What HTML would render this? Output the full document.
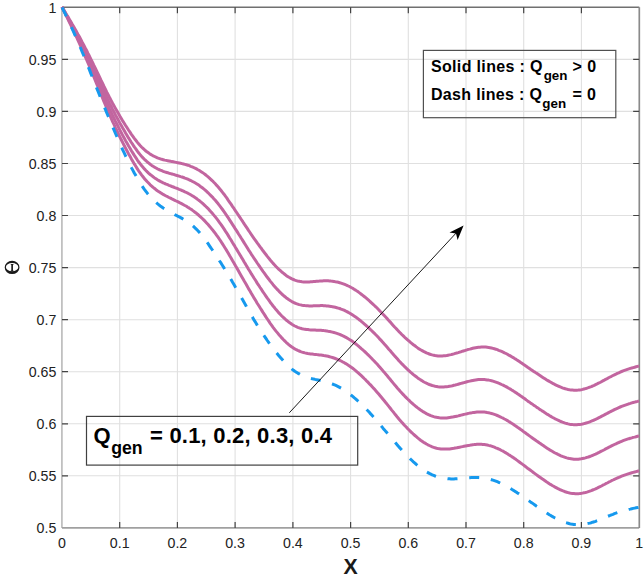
<!DOCTYPE html>
<html><head><meta charset="utf-8"><style>
html,body{margin:0;padding:0;background:#fff;}
svg{display:block;}
text{font-family:"Liberation Sans",sans-serif;}
</style></head><body>
<svg width="644" height="577" viewBox="0 0 644 577">
<rect width="644" height="577" fill="#fff"/>
<path d="M119.7,7.3 L119.7,527.9 M177.4,7.3 L177.4,527.9 M235.1,7.3 L235.1,527.9 M292.9,7.3 L292.9,527.9 M350.6,7.3 L350.6,527.9 M408.3,7.3 L408.3,527.9 M466.0,7.3 L466.0,527.9 M523.7,7.3 L523.7,527.9 M581.4,7.3 L581.4,527.9 M62.0,475.8 L639.15,475.8 M62.0,423.8 L639.15,423.8 M62.0,371.7 L639.15,371.7 M62.0,319.7 L639.15,319.7 M62.0,267.6 L639.15,267.6 M62.0,215.5 L639.15,215.5 M62.0,163.5 L639.15,163.5 M62.0,111.4 L639.15,111.4 M62.0,59.4 L639.15,59.4" stroke="#e0e0e0" stroke-width="1.1" fill="none"/>
<path d="M61.9,527.9 L61.9,7.3" stroke="#c0c0c0" stroke-width="1.8" fill="none"/>
<path d="M62.0,527.9 L639.15,527.9" stroke="#a0a0a0" stroke-width="1.7" fill="none"/>
<path d="M62.0,7.3 L639.3,7.3" stroke="#707070" stroke-width="1.4" fill="none"/>
<path d="M639.3,7.3 L639.3,527.9" stroke="#8a8a8a" stroke-width="1.7" fill="none"/>
<path d="M119.7,527.9 L119.7,521.9 M119.7,7.3 L119.7,13.3 M177.4,527.9 L177.4,521.9 M177.4,7.3 L177.4,13.3 M235.1,527.9 L235.1,521.9 M235.1,7.3 L235.1,13.3 M292.9,527.9 L292.9,521.9 M292.9,7.3 L292.9,13.3 M350.6,527.9 L350.6,521.9 M350.6,7.3 L350.6,13.3 M408.3,527.9 L408.3,521.9 M408.3,7.3 L408.3,13.3 M466.0,527.9 L466.0,521.9 M466.0,7.3 L466.0,13.3 M523.7,527.9 L523.7,521.9 M523.7,7.3 L523.7,13.3 M581.4,527.9 L581.4,521.9 M581.4,7.3 L581.4,13.3 M62.0,475.8 L68.0,475.8 M639.15,475.8 L633.15,475.8 M62.0,423.8 L68.0,423.8 M639.15,423.8 L633.15,423.8 M62.0,371.7 L68.0,371.7 M639.15,371.7 L633.15,371.7 M62.0,319.7 L68.0,319.7 M639.15,319.7 L633.15,319.7 M62.0,267.6 L68.0,267.6 M639.15,267.6 L633.15,267.6 M62.0,215.5 L68.0,215.5 M639.15,215.5 L633.15,215.5 M62.0,163.5 L68.0,163.5 M639.15,163.5 L633.15,163.5 M62.0,111.4 L68.0,111.4 M639.15,111.4 L633.15,111.4 M62.0,59.4 L68.0,59.4 M639.15,59.4 L633.15,59.4" stroke="#444" stroke-width="1.2" fill="none"/>
<path d="M62.0,7.0 L63.4,9.9 L64.9,12.9 L66.3,15.9 L67.8,18.8 L69.2,21.8 L70.7,24.8 L72.1,27.8 L73.6,30.9 L75.0,33.9 L76.5,37.0 L77.9,40.1 L79.4,43.3 L80.8,46.5 L82.2,49.7 L83.7,53.0 L85.1,56.3 L86.6,59.6 L88.0,63.0 L89.5,66.4 L90.9,69.9 L92.4,73.3 L93.8,76.8 L95.3,80.4 L96.7,83.9 L98.2,87.4 L99.6,91.0 L101.0,94.5 L102.5,98.0 L103.9,101.5 L105.4,105.0 L106.8,108.4 L108.3,111.8 L109.7,115.1 L111.2,118.4 L112.6,121.6 L114.1,124.7 L115.5,127.8 L117.0,130.9 L118.4,133.9 L119.8,136.9 L121.3,139.8 L122.7,142.6 L124.2,145.5 L125.6,148.2 L127.1,151.0 L128.5,153.7 L130.0,156.3 L131.4,158.9 L132.9,161.5 L134.3,163.9 L135.8,166.3 L137.2,168.6 L138.6,170.8 L140.1,172.9 L141.5,174.9 L143.0,176.8 L144.4,178.6 L145.9,180.2 L147.3,181.8 L148.8,183.3 L150.2,184.8 L151.7,186.1 L153.1,187.4 L154.6,188.5 L156.0,189.7 L157.4,190.7 L158.9,191.7 L160.3,192.6 L161.8,193.5 L163.2,194.4 L164.7,195.2 L166.1,196.0 L167.6,196.7 L169.0,197.5 L170.5,198.2 L171.9,198.9 L173.4,199.6 L174.8,200.3 L176.2,201.0 L177.7,201.7 L179.1,202.4 L180.6,203.2 L182.0,203.9 L183.5,204.7 L184.9,205.5 L186.4,206.3 L187.8,207.2 L189.3,208.1 L190.7,209.1 L192.2,210.1 L193.6,211.1 L195.0,212.2 L196.5,213.3 L197.9,214.5 L199.4,215.8 L200.8,217.1 L202.3,218.5 L203.7,219.9 L205.2,221.4 L206.6,222.9 L208.1,224.5 L209.5,226.2 L210.9,227.9 L212.4,229.7 L213.8,231.5 L215.3,233.4 L216.7,235.4 L218.2,237.4 L219.6,239.5 L221.1,241.7 L222.5,243.9 L224.0,246.2 L225.4,248.5 L226.9,250.9 L228.3,253.3 L229.7,255.8 L231.2,258.2 L232.6,260.7 L234.1,263.2 L235.5,265.8 L237.0,268.3 L238.4,270.8 L239.9,273.4 L241.3,275.9 L242.8,278.5 L244.2,281.0 L245.7,283.5 L247.1,286.0 L248.5,288.6 L250.0,291.0 L251.4,293.5 L252.9,296.0 L254.3,298.4 L255.8,300.8 L257.2,303.2 L258.7,305.5 L260.1,307.8 L261.6,310.1 L263.0,312.4 L264.5,314.6 L265.9,316.9 L267.3,319.0 L268.8,321.2 L270.2,323.3 L271.7,325.3 L273.1,327.3 L274.6,329.3 L276.0,331.1 L277.5,332.9 L278.9,334.7 L280.4,336.3 L281.8,337.9 L283.3,339.5 L284.7,340.9 L286.1,342.3 L287.6,343.6 L289.0,344.8 L290.5,346.0 L291.9,347.0 L293.4,348.0 L294.8,348.9 L296.3,349.7 L297.7,350.4 L299.2,351.0 L300.6,351.6 L302.1,352.1 L303.5,352.5 L304.9,352.9 L306.4,353.2 L307.8,353.5 L309.3,353.7 L310.7,353.9 L312.2,354.1 L313.6,354.3 L315.1,354.4 L316.5,354.6 L318.0,354.7 L319.4,354.9 L320.9,355.0 L322.3,355.2 L323.7,355.5 L325.2,355.7 L326.6,356.0 L328.1,356.3 L329.5,356.7 L331.0,357.1 L332.4,357.5 L333.9,358.0 L335.3,358.5 L336.8,359.1 L338.2,359.7 L339.7,360.3 L341.1,361.0 L342.5,361.8 L344.0,362.5 L345.4,363.4 L346.9,364.3 L348.3,365.2 L349.8,366.2 L351.2,367.2 L352.7,368.3 L354.1,369.4 L355.6,370.6 L357.0,371.8 L358.5,373.1 L359.9,374.4 L361.3,375.7 L362.8,377.1 L364.2,378.5 L365.7,379.9 L367.1,381.4 L368.6,382.9 L370.0,384.4 L371.5,385.9 L372.9,387.5 L374.4,389.1 L375.8,390.7 L377.3,392.4 L378.7,394.0 L380.1,395.7 L381.6,397.5 L383.0,399.2 L384.5,401.0 L385.9,402.8 L387.4,404.6 L388.8,406.4 L390.3,408.3 L391.7,410.1 L393.2,411.9 L394.6,413.7 L396.1,415.5 L397.5,417.3 L398.9,419.0 L400.4,420.7 L401.8,422.3 L403.3,423.9 L404.7,425.5 L406.2,427.0 L407.6,428.6 L409.1,430.0 L410.5,431.5 L412.0,432.8 L413.4,434.2 L414.9,435.5 L416.3,436.7 L417.7,437.9 L419.2,439.1 L420.6,440.2 L422.1,441.2 L423.5,442.2 L425.0,443.1 L426.4,444.0 L427.9,444.8 L429.3,445.5 L430.8,446.2 L432.2,446.8 L433.7,447.3 L435.1,447.8 L436.5,448.2 L438.0,448.5 L439.4,448.7 L440.9,448.9 L442.3,449.0 L443.8,449.1 L445.2,449.1 L446.7,449.1 L448.1,449.0 L449.6,448.9 L451.0,448.7 L452.5,448.5 L453.9,448.3 L455.3,448.0 L456.8,447.8 L458.2,447.5 L459.7,447.2 L461.1,446.9 L462.6,446.6 L464.0,446.3 L465.5,446.0 L466.9,445.7 L468.4,445.4 L469.8,445.2 L471.3,444.9 L472.7,444.7 L474.1,444.6 L475.6,444.4 L477.0,444.3 L478.5,444.3 L479.9,444.3 L481.4,444.3 L482.8,444.4 L484.3,444.6 L485.7,444.8 L487.2,445.0 L488.6,445.4 L490.1,445.7 L491.5,446.2 L492.9,446.7 L494.4,447.2 L495.8,447.8 L497.3,448.4 L498.7,449.0 L500.2,449.7 L501.6,450.5 L503.1,451.2 L504.5,452.1 L506.0,452.9 L507.4,453.8 L508.8,454.7 L510.3,455.6 L511.7,456.6 L513.2,457.5 L514.6,458.6 L516.1,459.6 L517.5,460.6 L519.0,461.7 L520.4,462.8 L521.9,463.9 L523.3,464.9 L524.8,466.0 L526.2,467.1 L527.6,468.2 L529.1,469.3 L530.5,470.3 L532.0,471.4 L533.4,472.5 L534.9,473.6 L536.3,474.6 L537.8,475.7 L539.2,476.7 L540.7,477.8 L542.1,478.8 L543.6,479.8 L545.0,480.8 L546.4,481.8 L547.9,482.7 L549.3,483.7 L550.8,484.6 L552.2,485.5 L553.7,486.3 L555.1,487.1 L556.6,487.9 L558.0,488.7 L559.5,489.4 L560.9,490.0 L562.4,490.7 L563.8,491.2 L565.2,491.8 L566.7,492.2 L568.1,492.6 L569.6,493.0 L571.0,493.3 L572.5,493.5 L573.9,493.6 L575.4,493.7 L576.8,493.7 L578.3,493.7 L579.7,493.6 L581.2,493.4 L582.6,493.1 L584.0,492.8 L585.5,492.5 L586.9,492.1 L588.4,491.6 L589.8,491.1 L591.3,490.6 L592.7,490.0 L594.2,489.4 L595.6,488.8 L597.1,488.1 L598.5,487.4 L600.0,486.7 L601.4,486.0 L602.8,485.2 L604.3,484.5 L605.7,483.7 L607.2,483.0 L608.6,482.2 L610.1,481.5 L611.5,480.7 L613.0,480.0 L614.4,479.3 L615.9,478.7 L617.3,478.0 L618.8,477.4 L620.2,476.8 L621.6,476.2 L623.1,475.6 L624.5,475.1 L626.0,474.6 L627.4,474.1 L628.9,473.6 L630.3,473.2 L631.8,472.8 L633.2,472.4 L634.7,472.0 L636.1,471.6 L637.6,471.2 L639.0,470.8" stroke="#c2659f" stroke-width="3" fill="none" stroke-linejoin="round"/>
<path d="M62.0,7.0 L63.4,9.8 L64.9,12.5 L66.3,15.3 L67.8,18.1 L69.2,20.9 L70.7,23.7 L72.1,26.6 L73.6,29.4 L75.0,32.3 L76.5,35.2 L77.9,38.1 L79.4,41.1 L80.8,44.1 L82.2,47.2 L83.7,50.3 L85.1,53.4 L86.6,56.6 L88.0,59.8 L89.5,63.0 L90.9,66.3 L92.4,69.6 L93.8,72.9 L95.3,76.3 L96.7,79.6 L98.2,83.0 L99.6,86.4 L101.0,89.8 L102.5,93.1 L103.9,96.4 L105.4,99.7 L106.8,103.0 L108.3,106.2 L109.7,109.3 L111.2,112.4 L112.6,115.5 L114.1,118.5 L115.5,121.4 L117.0,124.3 L118.4,127.1 L119.8,129.9 L121.3,132.7 L122.7,135.4 L124.2,138.1 L125.6,140.7 L127.1,143.3 L128.5,145.8 L130.0,148.3 L131.4,150.7 L132.9,153.1 L134.3,155.4 L135.8,157.6 L137.2,159.8 L138.6,161.8 L140.1,163.7 L141.5,165.6 L143.0,167.3 L144.4,168.9 L145.9,170.5 L147.3,171.9 L148.8,173.3 L150.2,174.5 L151.7,175.7 L153.1,176.8 L154.6,177.9 L156.0,178.8 L157.4,179.7 L158.9,180.6 L160.3,181.4 L161.8,182.1 L163.2,182.8 L164.7,183.5 L166.1,184.1 L167.6,184.7 L169.0,185.3 L170.5,185.9 L171.9,186.5 L173.4,187.0 L174.8,187.6 L176.2,188.1 L177.7,188.7 L179.1,189.3 L180.6,189.9 L182.0,190.5 L183.5,191.1 L184.9,191.8 L186.4,192.5 L187.8,193.2 L189.3,194.0 L190.7,194.8 L192.2,195.7 L193.6,196.6 L195.0,197.5 L196.5,198.5 L197.9,199.6 L199.4,200.7 L200.8,201.9 L202.3,203.1 L203.7,204.4 L205.2,205.8 L206.6,207.2 L208.1,208.6 L209.5,210.2 L210.9,211.8 L212.4,213.4 L213.8,215.1 L215.3,216.9 L216.7,218.7 L218.2,220.6 L219.6,222.6 L221.1,224.6 L222.5,226.7 L224.0,228.9 L225.4,231.1 L226.9,233.3 L228.3,235.6 L229.7,238.0 L231.2,240.3 L232.6,242.7 L234.1,245.1 L235.5,247.5 L237.0,249.9 L238.4,252.3 L239.9,254.7 L241.3,257.1 L242.8,259.5 L244.2,262.0 L245.7,264.4 L247.1,266.8 L248.5,269.2 L250.0,271.5 L251.4,273.9 L252.9,276.2 L254.3,278.5 L255.8,280.8 L257.2,283.1 L258.7,285.3 L260.1,287.5 L261.6,289.7 L263.0,291.9 L264.5,294.0 L265.9,296.1 L267.3,298.2 L268.8,300.2 L270.2,302.2 L271.7,304.1 L273.1,306.0 L274.6,307.8 L276.0,309.6 L277.5,311.3 L278.9,312.9 L280.4,314.5 L281.8,316.0 L283.3,317.4 L284.7,318.7 L286.1,320.0 L287.6,321.2 L289.0,322.3 L290.5,323.3 L291.9,324.3 L293.4,325.2 L294.8,326.0 L296.3,326.7 L297.7,327.3 L299.2,327.8 L300.6,328.3 L302.1,328.7 L303.5,329.0 L304.9,329.2 L306.4,329.5 L307.8,329.6 L309.3,329.8 L310.7,329.9 L312.2,330.0 L313.6,330.1 L315.1,330.1 L316.5,330.2 L318.0,330.2 L319.4,330.3 L320.9,330.3 L322.3,330.4 L323.7,330.6 L325.2,330.7 L326.6,330.9 L328.1,331.2 L329.5,331.4 L331.0,331.8 L332.4,332.1 L333.9,332.5 L335.3,332.9 L336.8,333.4 L338.2,333.9 L339.7,334.4 L341.1,335.0 L342.5,335.7 L344.0,336.4 L345.4,337.1 L346.9,337.9 L348.3,338.8 L349.8,339.7 L351.2,340.6 L352.7,341.6 L354.1,342.7 L355.6,343.8 L357.0,344.9 L358.5,346.1 L359.9,347.3 L361.3,348.6 L362.8,349.8 L364.2,351.2 L365.7,352.5 L367.1,353.9 L368.6,355.3 L370.0,356.7 L371.5,358.2 L372.9,359.7 L374.4,361.2 L375.8,362.8 L377.3,364.3 L378.7,365.9 L380.1,367.5 L381.6,369.2 L383.0,370.9 L384.5,372.6 L385.9,374.3 L387.4,376.0 L388.8,377.8 L390.3,379.5 L391.7,381.3 L393.2,383.1 L394.6,384.8 L396.1,386.5 L397.5,388.2 L398.9,389.8 L400.4,391.5 L401.8,393.0 L403.3,394.6 L404.7,396.1 L406.2,397.6 L407.6,399.0 L409.1,400.4 L410.5,401.8 L412.0,403.1 L413.4,404.4 L414.9,405.6 L416.3,406.8 L417.7,407.9 L419.2,409.0 L420.6,410.0 L422.1,411.0 L423.5,411.9 L425.0,412.8 L426.4,413.6 L427.9,414.3 L429.3,415.0 L430.8,415.6 L432.2,416.1 L433.7,416.6 L435.1,417.0 L436.5,417.3 L438.0,417.6 L439.4,417.8 L440.9,417.9 L442.3,418.0 L443.8,418.0 L445.2,418.0 L446.7,417.9 L448.1,417.7 L449.6,417.5 L451.0,417.3 L452.5,417.1 L453.9,416.8 L455.3,416.5 L456.8,416.2 L458.2,415.9 L459.7,415.5 L461.1,415.1 L462.6,414.8 L464.0,414.4 L465.5,414.1 L466.9,413.8 L468.4,413.4 L469.8,413.1 L471.3,412.9 L472.7,412.6 L474.1,412.4 L475.6,412.2 L477.0,412.1 L478.5,412.0 L479.9,411.9 L481.4,411.9 L482.8,412.0 L484.3,412.1 L485.7,412.2 L487.2,412.5 L488.6,412.7 L490.1,413.1 L491.5,413.5 L492.9,413.9 L494.4,414.4 L495.8,414.9 L497.3,415.5 L498.7,416.1 L500.2,416.8 L501.6,417.5 L503.1,418.2 L504.5,419.0 L506.0,419.8 L507.4,420.6 L508.8,421.5 L510.3,422.4 L511.7,423.3 L513.2,424.2 L514.6,425.2 L516.1,426.2 L517.5,427.2 L519.0,428.2 L520.4,429.3 L521.9,430.3 L523.3,431.4 L524.8,432.4 L526.2,433.5 L527.6,434.5 L529.1,435.6 L530.5,436.6 L532.0,437.7 L533.4,438.7 L534.9,439.8 L536.3,440.8 L537.8,441.8 L539.2,442.8 L540.7,443.8 L542.1,444.8 L543.6,445.8 L545.0,446.8 L546.4,447.7 L547.9,448.7 L549.3,449.6 L550.8,450.5 L552.2,451.3 L553.7,452.2 L555.1,453.0 L556.6,453.7 L558.0,454.4 L559.5,455.1 L560.9,455.8 L562.4,456.4 L563.8,456.9 L565.2,457.4 L566.7,457.9 L568.1,458.2 L569.6,458.6 L571.0,458.8 L572.5,459.0 L573.9,459.2 L575.4,459.2 L576.8,459.2 L578.3,459.2 L579.7,459.0 L581.2,458.8 L582.6,458.5 L584.0,458.2 L585.5,457.9 L586.9,457.4 L588.4,457.0 L589.8,456.5 L591.3,455.9 L592.7,455.3 L594.2,454.7 L595.6,454.1 L597.1,453.4 L598.5,452.7 L600.0,451.9 L601.4,451.2 L602.8,450.5 L604.3,449.7 L605.7,448.9 L607.2,448.2 L608.6,447.4 L610.1,446.7 L611.5,445.9 L613.0,445.2 L614.4,444.5 L615.9,443.8 L617.3,443.1 L618.8,442.5 L620.2,441.9 L621.6,441.3 L623.1,440.7 L624.5,440.2 L626.0,439.7 L627.4,439.2 L628.9,438.7 L630.3,438.3 L631.8,437.9 L633.2,437.4 L634.7,437.1 L636.1,436.7 L637.6,436.3 L639.0,435.9" stroke="#c2659f" stroke-width="3" fill="none" stroke-linejoin="round"/>
<path d="M62.0,7.0 L63.4,9.6 L64.9,12.2 L66.3,14.8 L67.8,17.4 L69.2,20.0 L70.7,22.6 L72.1,25.3 L73.6,28.0 L75.0,30.7 L76.5,33.4 L77.9,36.2 L79.4,39.0 L80.8,41.8 L82.2,44.7 L83.7,47.6 L85.1,50.6 L86.6,53.6 L88.0,56.6 L89.5,59.7 L90.9,62.8 L92.4,65.9 L93.8,69.0 L95.3,72.2 L96.7,75.4 L98.2,78.6 L99.6,81.8 L101.0,85.0 L102.5,88.2 L103.9,91.3 L105.4,94.5 L106.8,97.5 L108.3,100.6 L109.7,103.6 L111.2,106.5 L112.6,109.4 L114.1,112.2 L115.5,115.0 L117.0,117.7 L118.4,120.4 L119.8,123.0 L121.3,125.6 L122.7,128.1 L124.2,130.6 L125.6,133.1 L127.1,135.5 L128.5,137.9 L130.0,140.3 L131.4,142.5 L132.9,144.7 L134.3,146.9 L135.8,148.9 L137.2,150.9 L138.6,152.8 L140.1,154.6 L141.5,156.3 L143.0,157.9 L144.4,159.3 L145.9,160.7 L147.3,162.0 L148.8,163.2 L150.2,164.3 L151.7,165.4 L153.1,166.3 L154.6,167.2 L156.0,168.0 L157.4,168.8 L158.9,169.5 L160.3,170.1 L161.8,170.7 L163.2,171.3 L164.7,171.8 L166.1,172.3 L167.6,172.7 L169.0,173.2 L170.5,173.6 L171.9,174.0 L173.4,174.4 L174.8,174.8 L176.2,175.3 L177.7,175.7 L179.1,176.1 L180.6,176.6 L182.0,177.0 L183.5,177.5 L184.9,178.1 L186.4,178.6 L187.8,179.2 L189.3,179.9 L190.7,180.5 L192.2,181.3 L193.6,182.0 L195.0,182.8 L196.5,183.7 L197.9,184.6 L199.4,185.6 L200.8,186.7 L202.3,187.8 L203.7,188.9 L205.2,190.1 L206.6,191.4 L208.1,192.8 L209.5,194.2 L210.9,195.6 L212.4,197.1 L213.8,198.7 L215.3,200.3 L216.7,202.0 L218.2,203.8 L219.6,205.6 L221.1,207.6 L222.5,209.5 L224.0,211.6 L225.4,213.6 L226.9,215.8 L228.3,217.9 L229.7,220.1 L231.2,222.4 L232.6,224.6 L234.1,226.9 L235.5,229.2 L237.0,231.4 L238.4,233.7 L239.9,236.0 L241.3,238.3 L242.8,240.6 L244.2,242.9 L245.7,245.2 L247.1,247.5 L248.5,249.8 L250.0,252.0 L251.4,254.3 L252.9,256.5 L254.3,258.7 L255.8,260.8 L257.2,263.0 L258.7,265.1 L260.1,267.2 L261.6,269.3 L263.0,271.3 L264.5,273.3 L265.9,275.3 L267.3,277.3 L268.8,279.2 L270.2,281.1 L271.7,282.9 L273.1,284.7 L274.6,286.4 L276.0,288.0 L277.5,289.6 L278.9,291.1 L280.4,292.6 L281.8,294.0 L283.3,295.3 L284.7,296.5 L286.1,297.7 L287.6,298.8 L289.0,299.8 L290.5,300.7 L291.9,301.6 L293.4,302.4 L294.8,303.0 L296.3,303.6 L297.7,304.1 L299.2,304.6 L300.6,304.9 L302.1,305.2 L303.5,305.4 L304.9,305.6 L306.4,305.7 L307.8,305.8 L309.3,305.9 L310.7,305.9 L312.2,305.9 L313.6,305.8 L315.1,305.8 L316.5,305.7 L318.0,305.7 L319.4,305.7 L320.9,305.6 L322.3,305.6 L323.7,305.7 L325.2,305.8 L326.6,305.9 L328.1,306.0 L329.5,306.2 L331.0,306.4 L332.4,306.7 L333.9,307.0 L335.3,307.3 L336.8,307.7 L338.2,308.1 L339.7,308.5 L341.1,309.1 L342.5,309.6 L344.0,310.2 L345.4,310.9 L346.9,311.6 L348.3,312.4 L349.8,313.2 L351.2,314.1 L352.7,315.0 L354.1,315.9 L355.6,316.9 L357.0,318.0 L358.5,319.1 L359.9,320.2 L361.3,321.4 L362.8,322.6 L364.2,323.8 L365.7,325.1 L367.1,326.4 L368.6,327.7 L370.0,329.1 L371.5,330.5 L372.9,331.9 L374.4,333.3 L375.8,334.8 L377.3,336.3 L378.7,337.8 L380.1,339.4 L381.6,340.9 L383.0,342.5 L384.5,344.2 L385.9,345.8 L387.4,347.5 L388.8,349.2 L390.3,350.8 L391.7,352.5 L393.2,354.2 L394.6,355.9 L396.1,357.5 L397.5,359.1 L398.9,360.7 L400.4,362.2 L401.8,363.8 L403.3,365.2 L404.7,366.7 L406.2,368.1 L407.6,369.5 L409.1,370.8 L410.5,372.1 L412.0,373.3 L413.4,374.6 L414.9,375.7 L416.3,376.8 L417.7,377.9 L419.2,378.9 L420.6,379.9 L422.1,380.8 L423.5,381.7 L425.0,382.5 L426.4,383.2 L427.9,383.9 L429.3,384.5 L430.8,385.0 L432.2,385.5 L433.7,385.9 L435.1,386.3 L436.5,386.5 L438.0,386.8 L439.4,386.9 L440.9,387.0 L442.3,387.0 L443.8,386.9 L445.2,386.8 L446.7,386.7 L448.1,386.5 L449.6,386.2 L451.0,386.0 L452.5,385.7 L453.9,385.3 L455.3,385.0 L456.8,384.6 L458.2,384.2 L459.7,383.8 L461.1,383.4 L462.6,383.0 L464.0,382.6 L465.5,382.2 L466.9,381.8 L468.4,381.4 L469.8,381.1 L471.3,380.8 L472.7,380.5 L474.1,380.2 L475.6,380.0 L477.0,379.8 L478.5,379.6 L479.9,379.5 L481.4,379.5 L482.8,379.5 L484.3,379.6 L485.7,379.7 L487.2,379.9 L488.6,380.1 L490.1,380.4 L491.5,380.7 L492.9,381.1 L494.4,381.6 L495.8,382.1 L497.3,382.6 L498.7,383.2 L500.2,383.8 L501.6,384.5 L503.1,385.2 L504.5,385.9 L506.0,386.6 L507.4,387.4 L508.8,388.3 L510.3,389.1 L511.7,390.0 L513.2,390.9 L514.6,391.9 L516.1,392.8 L517.5,393.8 L519.0,394.8 L520.4,395.8 L521.9,396.8 L523.3,397.8 L524.8,398.8 L526.2,399.9 L527.6,400.9 L529.1,401.9 L530.5,402.9 L532.0,403.9 L533.4,404.9 L534.9,405.9 L536.3,406.9 L537.8,407.9 L539.2,408.9 L540.7,409.9 L542.1,410.9 L543.6,411.8 L545.0,412.8 L546.4,413.7 L547.9,414.6 L549.3,415.5 L550.8,416.4 L552.2,417.2 L553.7,418.0 L555.1,418.8 L556.6,419.5 L558.0,420.2 L559.5,420.9 L560.9,421.5 L562.4,422.1 L563.8,422.6 L565.2,423.1 L566.7,423.5 L568.1,423.9 L569.6,424.2 L571.0,424.4 L572.5,424.6 L573.9,424.7 L575.4,424.8 L576.8,424.7 L578.3,424.6 L579.7,424.5 L581.2,424.3 L582.6,424.0 L584.0,423.6 L585.5,423.2 L586.9,422.8 L588.4,422.3 L589.8,421.8 L591.3,421.2 L592.7,420.6 L594.2,420.0 L595.6,419.3 L597.1,418.7 L598.5,417.9 L600.0,417.2 L601.4,416.4 L602.8,415.7 L604.3,414.9 L605.7,414.1 L607.2,413.4 L608.6,412.6 L610.1,411.8 L611.5,411.1 L613.0,410.4 L614.4,409.6 L615.9,409.0 L617.3,408.3 L618.8,407.6 L620.2,407.0 L621.6,406.4 L623.1,405.8 L624.5,405.3 L626.0,404.8 L627.4,404.3 L628.9,403.8 L630.3,403.4 L631.8,402.9 L633.2,402.5 L634.7,402.1 L636.1,401.7 L637.6,401.4 L639.0,401.0" stroke="#c2659f" stroke-width="3" fill="none" stroke-linejoin="round"/>
<path d="M62.0,7.0 L63.4,9.4 L64.9,11.8 L66.3,14.2 L67.8,16.6 L69.2,19.1 L70.7,21.5 L72.1,24.0 L73.6,26.5 L75.0,29.0 L76.5,31.6 L77.9,34.2 L79.4,36.8 L80.8,39.5 L82.2,42.2 L83.7,44.9 L85.1,47.7 L86.6,50.5 L88.0,53.4 L89.5,56.3 L90.9,59.2 L92.4,62.1 L93.8,65.1 L95.3,68.1 L96.7,71.1 L98.2,74.2 L99.6,77.2 L101.0,80.2 L102.5,83.2 L103.9,86.2 L105.4,89.2 L106.8,92.1 L108.3,95.0 L109.7,97.8 L111.2,100.6 L112.6,103.3 L114.1,105.9 L115.5,108.6 L117.0,111.1 L118.4,113.6 L119.8,116.1 L121.3,118.5 L122.7,120.9 L124.2,123.2 L125.6,125.5 L127.1,127.8 L128.5,130.0 L130.0,132.2 L131.4,134.3 L132.9,136.4 L134.3,138.4 L135.8,140.3 L137.2,142.1 L138.6,143.8 L140.1,145.5 L141.5,147.0 L143.0,148.4 L144.4,149.7 L145.9,151.0 L147.3,152.1 L148.8,153.1 L150.2,154.1 L151.7,155.0 L153.1,155.8 L154.6,156.5 L156.0,157.2 L157.4,157.8 L158.9,158.3 L160.3,158.8 L161.8,159.3 L163.2,159.7 L164.7,160.1 L166.1,160.4 L167.6,160.7 L169.0,161.0 L170.5,161.3 L171.9,161.6 L173.4,161.8 L174.8,162.1 L176.2,162.4 L177.7,162.7 L179.1,163.0 L180.6,163.3 L182.0,163.6 L183.5,164.0 L184.9,164.4 L186.4,164.8 L187.8,165.2 L189.3,165.7 L190.7,166.3 L192.2,166.8 L193.6,167.5 L195.0,168.2 L196.5,168.9 L197.9,169.7 L199.4,170.5 L200.8,171.4 L202.3,172.4 L203.7,173.4 L205.2,174.5 L206.6,175.7 L208.1,176.9 L209.5,178.1 L210.9,179.5 L212.4,180.8 L213.8,182.3 L215.3,183.8 L216.7,185.4 L218.2,187.0 L219.6,188.7 L221.1,190.5 L222.5,192.3 L224.0,194.2 L225.4,196.2 L226.9,198.2 L228.3,200.3 L229.7,202.3 L231.2,204.4 L232.6,206.6 L234.1,208.7 L235.5,210.9 L237.0,213.0 L238.4,215.2 L239.9,217.4 L241.3,219.5 L242.8,221.7 L244.2,223.9 L245.7,226.1 L247.1,228.2 L248.5,230.4 L250.0,232.5 L251.4,234.7 L252.9,236.8 L254.3,238.8 L255.8,240.9 L257.2,242.9 L258.7,244.9 L260.1,246.9 L261.6,248.8 L263.0,250.8 L264.5,252.7 L265.9,254.5 L267.3,256.4 L268.8,258.2 L270.2,260.0 L271.7,261.7 L273.1,263.4 L274.6,265.0 L276.0,266.5 L277.5,268.0 L278.9,269.4 L280.4,270.7 L281.8,272.0 L283.3,273.2 L284.7,274.3 L286.1,275.4 L287.6,276.4 L289.0,277.3 L290.5,278.1 L291.9,278.9 L293.4,279.5 L294.8,280.1 L296.3,280.6 L297.7,281.0 L299.2,281.3 L300.6,281.6 L302.1,281.8 L303.5,281.9 L304.9,282.0 L306.4,282.0 L307.8,282.0 L309.3,281.9 L310.7,281.8 L312.2,281.7 L313.6,281.6 L315.1,281.5 L316.5,281.3 L318.0,281.2 L319.4,281.1 L320.9,280.9 L322.3,280.9 L323.7,280.8 L325.2,280.8 L326.6,280.8 L328.1,280.8 L329.5,280.9 L331.0,281.1 L332.4,281.2 L333.9,281.4 L335.3,281.7 L336.8,281.9 L338.2,282.3 L339.7,282.7 L341.1,283.1 L342.5,283.6 L344.0,284.1 L345.4,284.7 L346.9,285.3 L348.3,286.0 L349.8,286.7 L351.2,287.5 L352.7,288.3 L354.1,289.2 L355.6,290.1 L357.0,291.1 L358.5,292.1 L359.9,293.1 L361.3,294.2 L362.8,295.4 L364.2,296.5 L365.7,297.7 L367.1,298.9 L368.6,300.2 L370.0,301.5 L371.5,302.8 L372.9,304.1 L374.4,305.5 L375.8,306.8 L377.3,308.3 L378.7,309.7 L380.1,311.2 L381.6,312.7 L383.0,314.2 L384.5,315.8 L385.9,317.3 L387.4,318.9 L388.8,320.5 L390.3,322.1 L391.7,323.7 L393.2,325.4 L394.6,327.0 L396.1,328.5 L397.5,330.1 L398.9,331.6 L400.4,333.0 L401.8,334.5 L403.3,335.9 L404.7,337.3 L406.2,338.6 L407.6,339.9 L409.1,341.2 L410.5,342.4 L412.0,343.6 L413.4,344.7 L414.9,345.8 L416.3,346.9 L417.7,347.9 L419.2,348.9 L420.6,349.8 L422.1,350.6 L423.5,351.4 L425.0,352.1 L426.4,352.8 L427.9,353.4 L429.3,354.0 L430.8,354.5 L432.2,354.9 L433.7,355.2 L435.1,355.5 L436.5,355.7 L438.0,355.9 L439.4,356.0 L440.9,356.0 L442.3,355.9 L443.8,355.8 L445.2,355.7 L446.7,355.5 L448.1,355.2 L449.6,354.9 L451.0,354.6 L452.5,354.2 L453.9,353.9 L455.3,353.4 L456.8,353.0 L458.2,352.6 L459.7,352.1 L461.1,351.7 L462.6,351.2 L464.0,350.8 L465.5,350.3 L466.9,349.9 L468.4,349.4 L469.8,349.1 L471.3,348.7 L472.7,348.3 L474.1,348.0 L475.6,347.7 L477.0,347.5 L478.5,347.3 L479.9,347.2 L481.4,347.1 L482.8,347.0 L484.3,347.0 L485.7,347.1 L487.2,347.3 L488.6,347.5 L490.1,347.7 L491.5,348.0 L492.9,348.4 L494.4,348.8 L495.8,349.2 L497.3,349.7 L498.7,350.3 L500.2,350.8 L501.6,351.4 L503.1,352.1 L504.5,352.8 L506.0,353.5 L507.4,354.3 L508.8,355.1 L510.3,355.9 L511.7,356.7 L513.2,357.6 L514.6,358.5 L516.1,359.4 L517.5,360.4 L519.0,361.3 L520.4,362.3 L521.9,363.3 L523.3,364.3 L524.8,365.3 L526.2,366.2 L527.6,367.2 L529.1,368.2 L530.5,369.2 L532.0,370.2 L533.4,371.2 L534.9,372.1 L536.3,373.1 L537.8,374.1 L539.2,375.0 L540.7,376.0 L542.1,376.9 L543.6,377.9 L545.0,378.8 L546.4,379.7 L547.9,380.6 L549.3,381.4 L550.8,382.2 L552.2,383.1 L553.7,383.8 L555.1,384.6 L556.6,385.3 L558.0,386.0 L559.5,386.6 L560.9,387.2 L562.4,387.8 L563.8,388.3 L565.2,388.7 L566.7,389.1 L568.1,389.5 L569.6,389.8 L571.0,390.0 L572.5,390.1 L573.9,390.2 L575.4,390.3 L576.8,390.2 L578.3,390.1 L579.7,389.9 L581.2,389.7 L582.6,389.4 L584.0,389.0 L585.5,388.6 L586.9,388.2 L588.4,387.7 L589.8,387.1 L591.3,386.6 L592.7,386.0 L594.2,385.3 L595.6,384.6 L597.1,383.9 L598.5,383.2 L600.0,382.5 L601.4,381.7 L602.8,380.9 L604.3,380.1 L605.7,379.3 L607.2,378.6 L608.6,377.8 L610.1,377.0 L611.5,376.3 L613.0,375.5 L614.4,374.8 L615.9,374.1 L617.3,373.4 L618.8,372.8 L620.2,372.1 L621.6,371.5 L623.1,370.9 L624.5,370.4 L626.0,369.9 L627.4,369.4 L628.9,368.9 L630.3,368.4 L631.8,368.0 L633.2,367.6 L634.7,367.2 L636.1,366.8 L637.6,366.4 L639.0,366.0" stroke="#c2659f" stroke-width="3" fill="none" stroke-linejoin="round"/>
<path d="M62.0,7.0 L63.4,10.1 L64.9,13.1 L66.3,16.2 L67.8,19.3 L69.2,22.4 L70.7,25.5 L72.1,28.7 L73.6,31.9 L75.0,35.1 L76.5,38.4 L77.9,41.7 L79.4,45.1 L80.8,48.5 L82.2,52.0 L83.7,55.5 L85.1,59.1 L86.6,62.7 L88.0,66.3 L89.5,69.9 L90.9,73.6 L92.4,77.2 L93.8,80.9 L95.3,84.5 L96.7,88.1 L98.2,91.7 L99.6,95.3 L101.0,98.9 L102.5,102.4 L103.9,106.0 L105.4,109.5 L106.8,113.0 L108.3,116.5 L109.7,119.9 L111.2,123.4 L112.6,126.8 L114.1,130.2 L115.5,133.5 L117.0,136.8 L118.4,140.1 L119.8,143.4 L121.3,146.6 L122.7,149.8 L124.2,152.9 L125.6,156.0 L127.1,159.0 L128.5,161.9 L130.0,164.8 L131.4,167.6 L132.9,170.4 L134.3,173.0 L135.8,175.6 L137.2,178.1 L138.6,180.5 L140.1,182.9 L141.5,185.1 L143.0,187.3 L144.4,189.3 L145.9,191.3 L147.3,193.2 L148.8,194.9 L150.2,196.6 L151.7,198.2 L153.1,199.7 L154.6,201.1 L156.0,202.5 L157.4,203.7 L158.9,204.9 L160.3,206.0 L161.8,207.0 L163.2,208.0 L164.7,208.9 L166.1,209.8 L167.6,210.7 L169.0,211.5 L170.5,212.3 L171.9,213.1 L173.4,213.8 L174.8,214.6 L176.2,215.3 L177.7,216.1 L179.1,216.8 L180.6,217.6 L182.0,218.4 L183.5,219.3 L184.9,220.1 L186.4,221.1 L187.8,222.0 L189.3,223.0 L190.7,224.1 L192.2,225.3 L193.6,226.5 L195.0,227.9 L196.5,229.3 L197.9,230.8 L199.4,232.4 L200.8,234.1 L202.3,235.9 L203.7,237.8 L205.2,239.7 L206.6,241.7 L208.1,243.7 L209.5,245.8 L210.9,247.9 L212.4,250.0 L213.8,252.1 L215.3,254.3 L216.7,256.5 L218.2,258.7 L219.6,261.0 L221.1,263.2 L222.5,265.5 L224.0,267.9 L225.4,270.2 L226.9,272.6 L228.3,275.0 L229.7,277.4 L231.2,279.8 L232.6,282.3 L234.1,284.8 L235.5,287.3 L237.0,289.8 L238.4,292.3 L239.9,294.9 L241.3,297.4 L242.8,300.0 L244.2,302.6 L245.7,305.2 L247.1,307.8 L248.5,310.3 L250.0,312.9 L251.4,315.4 L252.9,317.9 L254.3,320.4 L255.8,322.8 L257.2,325.1 L258.7,327.4 L260.1,329.7 L261.6,332.0 L263.0,334.2 L264.5,336.3 L265.9,338.4 L267.3,340.5 L268.8,342.6 L270.2,344.6 L271.7,346.5 L273.1,348.5 L274.6,350.4 L276.0,352.2 L277.5,354.0 L278.9,355.8 L280.4,357.5 L281.8,359.1 L283.3,360.8 L284.7,362.3 L286.1,363.8 L287.6,365.2 L289.0,366.6 L290.5,367.9 L291.9,369.1 L293.4,370.2 L294.8,371.3 L296.3,372.2 L297.7,373.1 L299.2,373.9 L300.6,374.7 L302.1,375.3 L303.5,375.9 L304.9,376.5 L306.4,377.0 L307.8,377.5 L309.3,377.9 L310.7,378.3 L312.2,378.7 L313.6,379.0 L315.1,379.4 L316.5,379.7 L318.0,380.0 L319.4,380.3 L320.9,380.7 L322.3,381.0 L323.7,381.3 L325.2,381.7 L326.6,382.1 L328.1,382.5 L329.5,383.0 L331.0,383.5 L332.4,384.0 L333.9,384.6 L335.3,385.2 L336.8,385.9 L338.2,386.6 L339.7,387.4 L341.1,388.2 L342.5,389.1 L344.0,390.0 L345.4,391.0 L346.9,392.0 L348.3,393.0 L349.8,394.1 L351.2,395.2 L352.7,396.4 L354.1,397.6 L355.6,398.8 L357.0,400.1 L358.5,401.4 L359.9,402.7 L361.3,404.1 L362.8,405.5 L364.2,407.0 L365.7,408.4 L367.1,410.0 L368.6,411.5 L370.0,413.1 L371.5,414.7 L372.9,416.3 L374.4,417.9 L375.8,419.6 L377.3,421.3 L378.7,423.0 L380.1,424.7 L381.6,426.4 L383.0,428.2 L384.5,429.9 L385.9,431.6 L387.4,433.3 L388.8,435.1 L390.3,436.8 L391.7,438.5 L393.2,440.2 L394.6,441.9 L396.1,443.6 L397.5,445.2 L398.9,446.9 L400.4,448.5 L401.8,450.1 L403.3,451.7 L404.7,453.2 L406.2,454.8 L407.6,456.3 L409.1,457.7 L410.5,459.1 L412.0,460.5 L413.4,461.8 L414.9,463.1 L416.3,464.4 L417.7,465.6 L419.2,466.7 L420.6,467.8 L422.1,468.9 L423.5,469.9 L425.0,470.8 L426.4,471.8 L427.9,472.6 L429.3,473.4 L430.8,474.1 L432.2,474.8 L433.7,475.4 L435.1,476.0 L436.5,476.5 L438.0,477.0 L439.4,477.4 L440.9,477.7 L442.3,478.0 L443.8,478.3 L445.2,478.5 L446.7,478.6 L448.1,478.8 L449.6,478.8 L451.0,478.9 L452.5,478.9 L453.9,478.9 L455.3,478.8 L456.8,478.8 L458.2,478.7 L459.7,478.6 L461.1,478.4 L462.6,478.3 L464.0,478.2 L465.5,478.0 L466.9,477.9 L468.4,477.8 L469.8,477.7 L471.3,477.6 L472.7,477.6 L474.1,477.5 L475.6,477.5 L477.0,477.5 L478.5,477.6 L479.9,477.7 L481.4,477.8 L482.8,478.0 L484.3,478.2 L485.7,478.4 L487.2,478.7 L488.6,479.0 L490.1,479.3 L491.5,479.7 L492.9,480.1 L494.4,480.6 L495.8,481.1 L497.3,481.7 L498.7,482.3 L500.2,483.0 L501.6,483.6 L503.1,484.4 L504.5,485.1 L506.0,485.9 L507.4,486.7 L508.8,487.5 L510.3,488.4 L511.7,489.3 L513.2,490.2 L514.6,491.1 L516.1,492.0 L517.5,493.0 L519.0,493.9 L520.4,494.9 L521.9,495.9 L523.3,496.9 L524.8,497.9 L526.2,498.9 L527.6,499.9 L529.1,500.9 L530.5,501.9 L532.0,502.9 L533.4,503.9 L534.9,505.0 L536.3,506.0 L537.8,507.0 L539.2,508.0 L540.7,509.0 L542.1,510.0 L543.6,510.9 L545.0,511.9 L546.4,512.8 L547.9,513.8 L549.3,514.7 L550.8,515.5 L552.2,516.4 L553.7,517.2 L555.1,518.0 L556.6,518.7 L558.0,519.5 L559.5,520.2 L560.9,520.8 L562.4,521.4 L563.8,522.0 L565.2,522.5 L566.7,522.9 L568.1,523.3 L569.6,523.7 L571.0,524.0 L572.5,524.2 L573.9,524.4 L575.4,524.6 L576.8,524.6 L578.3,524.6 L579.7,524.6 L581.2,524.5 L582.6,524.4 L584.0,524.2 L585.5,524.0 L586.9,523.7 L588.4,523.4 L589.8,523.1 L591.3,522.7 L592.7,522.2 L594.2,521.8 L595.6,521.3 L597.1,520.7 L598.5,520.2 L600.0,519.6 L601.4,519.0 L602.8,518.4 L604.3,517.8 L605.7,517.2 L607.2,516.6 L608.6,516.0 L610.1,515.4 L611.5,514.8 L613.0,514.3 L614.4,513.7 L615.9,513.2 L617.3,512.7 L618.8,512.2 L620.2,511.8 L621.6,511.3 L623.1,510.9 L624.5,510.5 L626.0,510.1 L627.4,509.8 L628.9,509.4 L630.3,509.1 L631.8,508.7 L633.2,508.4 L634.7,508.1 L636.1,507.8 L637.6,507.6 L639.0,507.3" stroke="#1699ee" stroke-width="3" fill="none" stroke-dasharray="10 11.79" stroke-dashoffset="21.44" stroke-linejoin="round"/>
<g font-family="Liberation Sans, sans-serif" font-size="14.2" fill="#222"><text x="56.3" y="533.4" text-anchor="end">0.5</text><text x="56.3" y="481.3" text-anchor="end">0.55</text><text x="56.3" y="429.2" text-anchor="end">0.6</text><text x="56.3" y="377.2" text-anchor="end">0.65</text><text x="56.3" y="325.1" text-anchor="end">0.7</text><text x="56.3" y="273.1" text-anchor="end">0.75</text><text x="56.3" y="221.0" text-anchor="end">0.8</text><text x="56.3" y="168.9" text-anchor="end">0.85</text><text x="56.3" y="116.9" text-anchor="end">0.9</text><text x="56.3" y="64.8" text-anchor="end">0.95</text><text x="56.3" y="12.8" text-anchor="end">1</text><text x="62.0" y="548.3" text-anchor="middle">0</text><text x="119.7" y="548.3" text-anchor="middle">0.1</text><text x="177.4" y="548.3" text-anchor="middle">0.2</text><text x="235.1" y="548.3" text-anchor="middle">0.3</text><text x="292.9" y="548.3" text-anchor="middle">0.4</text><text x="350.6" y="548.3" text-anchor="middle">0.5</text><text x="408.3" y="548.3" text-anchor="middle">0.6</text><text x="466.0" y="548.3" text-anchor="middle">0.7</text><text x="523.7" y="548.3" text-anchor="middle">0.8</text><text x="581.4" y="548.3" text-anchor="middle">0.9</text><text x="639.1" y="548.3" text-anchor="middle">1</text></g>
<text x="350.5" y="573.8" text-anchor="middle" font-family="Liberation Sans, sans-serif" font-weight="bold" font-size="21.3" fill="#1a1a1a">X</text>
<path d="M4.7,267.45 a7.4,6.65 0 1,0 14.8,0 a7.4,6.65 0 1,0 -14.8,0 Z M5.9,267.15 a6.2,4.15 0 1,0 12.4,0 a6.2,4.15 0 1,0 -12.4,0 Z" fill="#1a1a1a" fill-rule="evenodd"/>
<path d="M11.3,264.4 h1.65 v6.6 h-1.65 Z M10.75,263.9 h2.75 v0.85 h-2.75 Z M10.75,270.6 h2.75 v0.85 h-2.75 Z" fill="#1a1a1a"/>
<rect x="423.4" y="50.4" width="192.4" height="67.3" fill="none" stroke="#505050" stroke-width="1.2"/>
<g font-family="Liberation Sans, sans-serif" font-weight="bold" fill="#000"><text x="430.9" y="72" font-size="16" textLength="111.6" lengthAdjust="spacing">Solid lines : Q</text><text x="543.7" y="80.2" font-size="13.4">gen</text><text x="572.6" y="72" font-size="16" textLength="23.6" lengthAdjust="spacing">&gt; 0</text><text x="430.9" y="100.2" font-size="16" textLength="111.0" lengthAdjust="spacing">Dash lines : Q</text><text x="542.3" y="108.4" font-size="13.4">gen</text><text x="572.6" y="100.2" font-size="16" textLength="23.3" lengthAdjust="spacing">= 0</text></g>
<rect x="86.5" y="416.4" width="271.2" height="48.7" fill="none" stroke="#404040" stroke-width="1.2"/>
<g font-family="Liberation Sans, sans-serif" font-weight="bold" fill="#000"><text x="93.6" y="443" font-size="22">Q</text><text x="111.2" y="454" font-size="17.7">gen</text><text x="150" y="443" font-size="22" textLength="182" lengthAdjust="spacing">= 0.1, 0.2, 0.3, 0.4</text></g>
<path d="M289.3,412.8 L458,231" stroke="#1a1a1a" stroke-width="1" fill="none"/>
<path d="M463.6,225.4 L449.5,232.4 L456,233.4 L457.6,239.9 Z" fill="#000"/>
</svg>
</body></html>
